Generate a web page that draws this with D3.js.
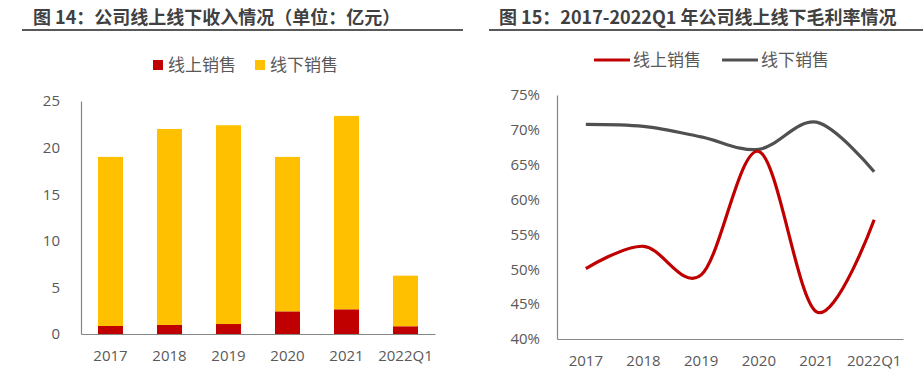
<!DOCTYPE html>
<html><head><meta charset="utf-8">
<script src="https://cdn.jsdelivr.net/npm/d3@7"></script>
<style>
body{margin:0;background:#fff;}
svg text{font-family:"Noto Sans CJK SC","Noto Sans",sans-serif;}
.tick text{font-family:"Open Sans","Noto Sans",sans-serif;}
</style></head>
<body><svg id="c" width="923" height="370"></svg>
<script>
const categories = ["2017","2018","2019","2020","2021","2022Q1"];
const onlineRevenue = [0.86, 0.97, 1.07, 2.43, 2.65, 0.83];
const offlineRevenue = [18.14, 21.03, 21.33, 16.57, 20.75, 5.43];
const revenueTicks = [0,5,10,15,20,25];
const onlineMargin = [50.1, 53.3, 49.2, 66.9, 43.9, 57.1];
const offlineMargin = [70.8, 70.5, 69.0, 67.2, 71.1, 64.0];
const marginTicks = [40,45,50,55,60,65,70,75];
const seriesNames = ["线上销售","线下销售"];
const title1 = "图 14：公司线上线下收入情况（单位：亿元）";
const title2 = "图 15：2017-2022Q1 年公司线上线下毛利率情况";

const RED = "#C00000", YEL = "#FFC000", GRAY = "#505050", TXT = "#595959";
const svg = d3.select("#c");

// Titles
svg.append("text").attr("x",33).attr("y",24).attr("font-size",18).attr("font-weight","bold").attr("fill","#404040").text(title1);
svg.append("line").attr("x1",22).attr("x2",463).attr("y1",30).attr("y2",30).attr("stroke","#595959").attr("stroke-width",2);
svg.append("text").attr("x",499).attr("y",24).attr("font-size",18).attr("font-weight","bold").attr("fill","#404040").text(title2);
svg.append("line").attr("x1",489).attr("x2",923).attr("y1",30).attr("y2",30).attr("stroke","#595959").attr("stroke-width",2);

// ---- Left chart: stacked bars
const x1 = d3.scaleBand().domain(categories).range([81,435]).paddingInner(0.576).paddingOuter(0.288);
const y1 = d3.scaleLinear().domain([0,25]).range([334,101]);
const stackData = categories.map((c,i)=>({cat:c, on:onlineRevenue[i], off:offlineRevenue[i]}));
const stack = d3.stack().keys(["on","off"])(stackData);
const colors1 = [RED, YEL];
const g1 = svg.append("g");
stack.forEach((layer,li)=>{
  g1.selectAll(null).data(layer).enter().append("rect")
    .attr("x",d=>x1(d.data.cat)).attr("width",x1.bandwidth())
    .attr("y",d=>y1(d[1])).attr("height",d=>y1(d[0])-y1(d[1]))
    .attr("fill",colors1[li]);
});
const ay1 = svg.append("g").attr("transform","translate(81,0)").call(d3.axisLeft(y1).tickValues(revenueTicks).tickSize(0).tickPadding(21));
ay1.select(".domain").attr("stroke","#868686").attr("stroke-width",1.2);
ay1.selectAll("text").attr("font-size",15).attr("fill",TXT);
const ax1 = svg.append("g").attr("transform","translate(0,334)").call(d3.axisBottom(x1).tickSize(0).tickPadding(16));
ax1.select(".domain").attr("stroke","#868686").attr("stroke-width",1.2);
ax1.selectAll("text").attr("font-size",15).attr("fill",TXT);

// Legend left
[[153,RED,seriesNames[0]],[255,YEL,seriesNames[1]]].forEach(([lx,col,t])=>{
  svg.append("rect").attr("x",lx).attr("y",60).attr("width",10).attr("height",10).attr("fill",col);
  svg.append("text").attr("x",lx+15).attr("y",71).attr("font-size",17).attr("fill",TXT).text(t);
});

// ---- Right chart: smooth lines
const x2 = d3.scaleBand().domain(categories).range([557,903]);
const y2 = d3.scaleLinear().domain([40,75]).range([339,95]);
const line = d3.line().x((d,i)=>x2(categories[i])+x2.bandwidth()/2).y(d=>y2(d)).curve(d3.curveCardinal.tension(0));
const ay2 = svg.append("g").attr("transform","translate(557,0)").call(d3.axisLeft(y2).tickValues(marginTicks).tickSize(0).tickPadding(17).tickFormat(d=>d+"%"));
ay2.select(".domain").attr("stroke","#868686").attr("stroke-width",1.2);
ay2.selectAll("text").attr("font-size",15).attr("fill",TXT);
const ax2 = svg.append("g").attr("transform","translate(0,339)").call(d3.axisBottom(x2).tickSize(0).tickPadding(16));
ax2.select(".domain").attr("stroke","#868686").attr("stroke-width",1.2);
ax2.selectAll("text").attr("font-size",15).attr("fill",TXT);
svg.append("path").attr("d",line(offlineMargin)).attr("fill","none").attr("stroke",GRAY).attr("stroke-width",3.2);
svg.append("path").attr("d",line(onlineMargin)).attr("fill","none").attr("stroke",RED).attr("stroke-width",3.2);

// Legend right
[[594,RED,seriesNames[0]],[722,GRAY,seriesNames[1]]].forEach(([lx,col,t])=>{
  svg.append("line").attr("x1",lx).attr("x2",lx+36).attr("y1",60).attr("y2",60).attr("stroke",col).attr("stroke-width",3.2);
  svg.append("text").attr("x",lx+39).attr("y",66).attr("font-size",17).attr("fill",TXT).text(t);
});
</script></body></html>
